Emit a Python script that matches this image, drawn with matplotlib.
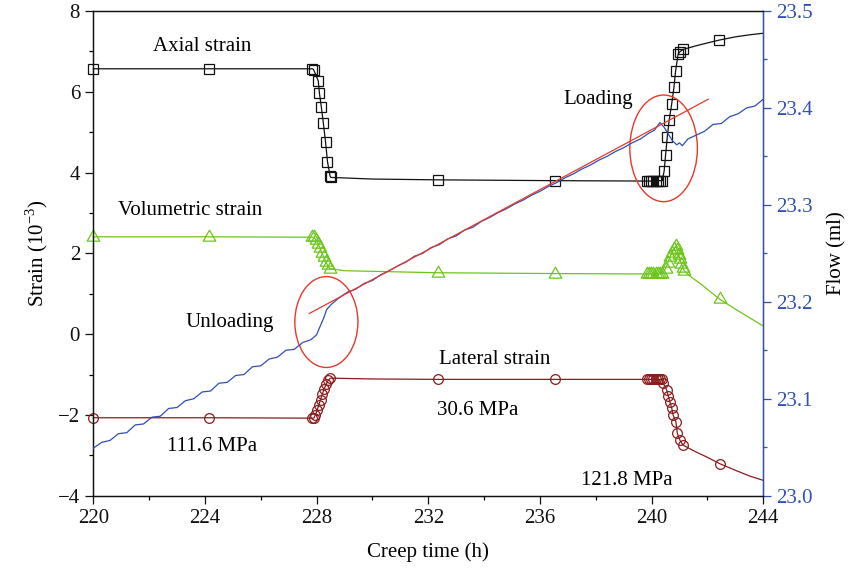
import matplotlib
matplotlib.use('Agg')
import matplotlib.pyplot as plt
from matplotlib.patches import Ellipse
from matplotlib.path import Path
from matplotlib.ticker import MultipleLocator, FormatStrFormatter

plt.rcParams['font.family'] = ['Liberation Serif', 'DejaVu Serif']
plt.rcParams['mathtext.fontset'] = 'custom'
plt.rcParams['mathtext.rm'] = 'Liberation Serif'
plt.rcParams['axes.unicode_minus'] = True

# colours
BLACK = '#111111'
GREEN = '#6cc51a'
WINE = '#8b1c1c'
BLUE = '#2f4fb5'
RED = '#e8382a'

## axial strain (10^-3) vs creep time (h)
axial_t = [220.0, 224.15, 227.85, 227.89, 228.06, 228.10, 228.17, 228.24, 228.32, 228.39,
           228.48, 228.51, 230.0, 232.35, 236.55,
           239.82, 239.90, 239.98, 240.06, 240.14, 240.22, 240.30, 240.38,
           240.45, 240.50, 240.56, 240.63, 240.72, 240.80, 240.86, 240.95, 241.01, 241.13,
           241.6, 242.0, 242.42, 243.0, 243.5, 244.0]
axial_v = [6.57, 6.57, 6.57, 6.55, 6.27, 5.97, 5.62, 5.23, 4.76, 4.27,
           3.92, 3.88, 3.84, 3.82, 3.80,
           3.79, 3.79, 3.79, 3.79, 3.79, 3.80, 3.80, 3.80,
           4.04, 4.43, 4.87, 5.30, 5.70, 6.11, 6.52, 6.93, 6.99, 7.05,
           7.14, 7.21, 7.28, 7.36, 7.41, 7.45]
axial_marks = [0, 1, 2, 3, 4, 5, 6, 7, 8, 9, 10, 11, 13, 14, 15, 16, 17, 18, 19, 20, 21, 22,
               23, 24, 25, 26, 27, 28, 29, 30, 31, 32, 35]

## volumetric strain
vol_t = [220.0, 224.15, 227.85, 227.90, 227.98, 228.05, 228.12, 228.19, 228.26, 228.33,
         228.40, 228.48, 229.0, 232.35, 236.55,
         239.82, 239.90, 239.98, 240.06, 240.14, 240.22, 240.30, 240.38,
         240.50, 240.58, 240.65, 240.72, 240.80, 240.88,
         240.92, 240.97, 241.02, 241.07, 241.12, 241.17,
         241.35, 241.8, 242.45, 243.0, 243.5, 244.0]
vol_v = [2.41, 2.41, 2.40, 2.40, 2.33, 2.24, 2.13, 2.01, 1.90, 1.79,
         1.70, 1.62, 1.57, 1.52, 1.50,
         1.49, 1.49, 1.49, 1.49, 1.49, 1.49, 1.49, 1.50,
         1.62, 1.76, 1.90, 2.02, 2.12, 2.17,
         2.08, 1.96, 1.85, 1.74, 1.64, 1.57,
         1.45, 1.22, 0.86, 0.62, 0.41, 0.20]
vol_marks = [0, 1, 2, 3, 4, 5, 6, 7, 8, 9, 10, 11, 13, 14, 15, 16, 17, 18, 19, 20, 21, 22,
             23, 24, 25, 26, 27, 28, 29, 30, 31, 32, 33, 34, 37]

## lateral strain
lat_t = [220.0, 224.15, 227.85, 227.90, 227.96, 228.02, 228.08, 228.14, 228.20, 228.27,
         228.34, 228.42, 228.49, 230.0, 232.35, 236.55,
         239.82, 239.90, 239.98, 240.06, 240.14, 240.22, 240.30, 240.38,
         240.42, 240.54, 240.60, 240.66, 240.72, 240.77, 240.87, 240.92, 241.01, 241.13,
         241.6, 242.0, 242.45, 243.0, 243.5, 244.0]
lat_v = [-2.07, -2.07, -2.08, -2.08, -2.00, -1.88, -1.75, -1.62, -1.49, -1.36,
         -1.24, -1.14, -1.09, -1.11, -1.12, -1.12,
         -1.12, -1.12, -1.12, -1.12, -1.12, -1.12, -1.12, -1.12,
         -1.22, -1.38, -1.54, -1.69, -1.83, -2.00, -2.17, -2.45, -2.62, -2.75,
         -2.92, -3.05, -3.21, -3.37, -3.51, -3.62]
lat_marks = [0, 1, 2, 3, 4, 5, 6, 7, 8, 9, 10, 11, 12, 14, 15, 16, 17, 18, 19, 20, 21, 22, 23,
             24, 25, 26, 27, 28, 29, 30, 31, 32, 33, 36]

## flow (ml), right axis
flow_t = [220.0, 220.3, 220.6, 220.9, 221.2, 221.5, 221.8, 222.1, 222.4, 222.7,
          223.0, 223.3, 223.6, 223.9, 224.2, 224.5, 224.8, 225.1, 225.4, 225.7,
          226.0, 226.3, 226.6, 226.9, 227.2, 227.5, 227.8, 228.0, 228.1, 228.25,
          228.36, 228.45, 228.55, 228.8, 229.1, 229.4, 229.7, 230.0, 230.3, 230.6,
          230.9, 231.2, 231.5, 231.8, 232.1, 232.4, 232.7, 233.0, 233.3, 233.6,
          233.9, 234.2, 234.5, 234.8, 235.1, 235.4, 235.7, 236.0, 236.3, 236.6,
          236.9, 237.2, 237.5, 237.8, 238.1, 238.4, 238.7, 239.0, 239.3, 239.6,
          239.9, 240.1, 240.3, 240.45, 240.6, 240.75, 240.9, 241.0, 241.1, 241.3,
          241.6, 241.9, 242.2, 242.5, 242.8, 243.1, 243.4, 243.7, 244.0]
flow_v = [23.049, 23.055, 23.057, 23.064, 23.065, 23.073, 23.074, 23.081, 23.082, 23.090,
          23.091, 23.098, 23.100, 23.107, 23.108, 23.116, 23.117, 23.124, 23.125, 23.133,
          23.134, 23.141, 23.143, 23.150, 23.151, 23.158, 23.161, 23.166, 23.173, 23.183,
          23.192, 23.195, 23.198, 23.204, 23.210, 23.213, 23.219, 23.222, 23.228, 23.232,
          23.237, 23.241, 23.247, 23.250, 23.256, 23.259, 23.265, 23.268, 23.274, 23.277,
          23.283, 23.287, 23.292, 23.296, 23.301, 23.305, 23.310, 23.314, 23.319, 23.323,
          23.328, 23.332, 23.337, 23.341, 23.346, 23.350, 23.355, 23.359, 23.364, 23.368,
          23.374, 23.377, 23.385, 23.380, 23.373, 23.366, 23.362, 23.364, 23.361, 23.368,
          23.372, 23.376, 23.383, 23.384, 23.391, 23.394, 23.400, 23.402, 23.409]

## linear fit drawn over the flow curve
fit_t = [227.74, 242.03]
fit_v = [23.188, 23.409]

# closed triangle with its centroid on the data point
tri = Path([(0, 1), (-0.866, -0.5), (0.866, -0.5), (0, 1)], closed=True)

fig = plt.figure(figsize=(8.55, 5.74), dpi=100)
ax = fig.add_axes([0.1091, 0.1364, 0.7836, 0.8444])
ax2 = ax.twinx()

ax.plot(axial_t, axial_v, color=BLACK, lw=0.9, marker='s', ms=6.5, mfc='none',
        mec=BLACK, mew=0.9, markevery=axial_marks, zorder=4, clip_on=False)
ax.plot(vol_t, vol_v, color=GREEN, lw=0.9, marker=tri, ms=10.5, mfc='none',
        mec=GREEN, mew=0.9, markevery=vol_marks, zorder=4, clip_on=False)
ax.plot(lat_t, lat_v, color=WINE, lw=0.9, marker='o', ms=7, mfc='none',
        mec=WINE, mew=0.9, markevery=lat_marks, zorder=4, clip_on=False)

ax2.plot(flow_t, flow_v, color=BLUE, lw=0.9, zorder=3)
ax2.plot(fit_t, fit_v, color=RED, lw=0.9, zorder=3)

# ellipses marking the unloading / loading zones
ax.add_patch(Ellipse((228.35, 0.30), 2.26, 2.25, fill=False, ec=RED, lw=1.0, zorder=5))
ax.add_patch(Ellipse((240.43, 4.60), 2.42, 2.64, fill=False, ec=RED, lw=1.0, zorder=5))

fs = 15
ax.text(223.89, 7.11, 'Axial strain', fontsize=fs, ha='center', va='center')
ax.text(238.07, 5.80, 'Loading', fontsize=fs, ha='center', va='center')
ax.text(223.46, 3.05, 'Volumetric strain', fontsize=fs, ha='center', va='center')
ax.text(224.90, 0.30, 'Unloading', fontsize=fs, ha='center', va='center')
ax.text(234.38, -0.64, 'Lateral strain', fontsize=fs, ha='center', va='center')
ax.text(233.77, -1.88, '30.6 MPa', fontsize=fs, ha='center', va='center')
ax.text(224.25, -2.77, '111.6 MPa', fontsize=fs, ha='center', va='center')
ax.text(239.11, -3.63, '121.8 MPa', fontsize=fs, ha='center', va='center')

ax.set_xlim(220, 244)
ax.set_ylim(-4, 8)
ax2.set_ylim(23.0, 23.5)

ax.xaxis.set_major_locator(MultipleLocator(4))
ax.xaxis.set_minor_locator(MultipleLocator(2))
ax.yaxis.set_major_locator(MultipleLocator(2))
ax.yaxis.set_minor_locator(MultipleLocator(1))
ax2.yaxis.set_major_locator(MultipleLocator(0.1))
ax2.yaxis.set_minor_locator(MultipleLocator(0.05))
ax2.yaxis.set_major_formatter(FormatStrFormatter('%.1f'))

ax.tick_params(which='major', direction='out', length=6, width=0.9, labelsize=fs,
               colors=BLACK, top=False)
ax.tick_params(which='minor', direction='out', length=3, width=0.9, top=False)
ax2.tick_params(which='major', direction='out', length=6, width=0.9, labelsize=fs,
                colors=BLUE)
ax2.tick_params(which='minor', direction='out', length=3, width=0.9, colors=BLUE)

for a in (ax, ax2):
    for s in a.spines.values():
        s.set_linewidth(0.9)
        s.set_color(BLACK)
ax2.spines['right'].set_color(BLUE)

ax.set_xlabel('Creep time (h)', fontsize=fs, labelpad=10)
ax.set_ylabel(r'Strain (10$^{-3}$)', fontsize=fs, labelpad=6)
ax2.set_ylabel('Flow (ml)', fontsize=fs, labelpad=10)

fig.savefig('out.png', dpi=100)
